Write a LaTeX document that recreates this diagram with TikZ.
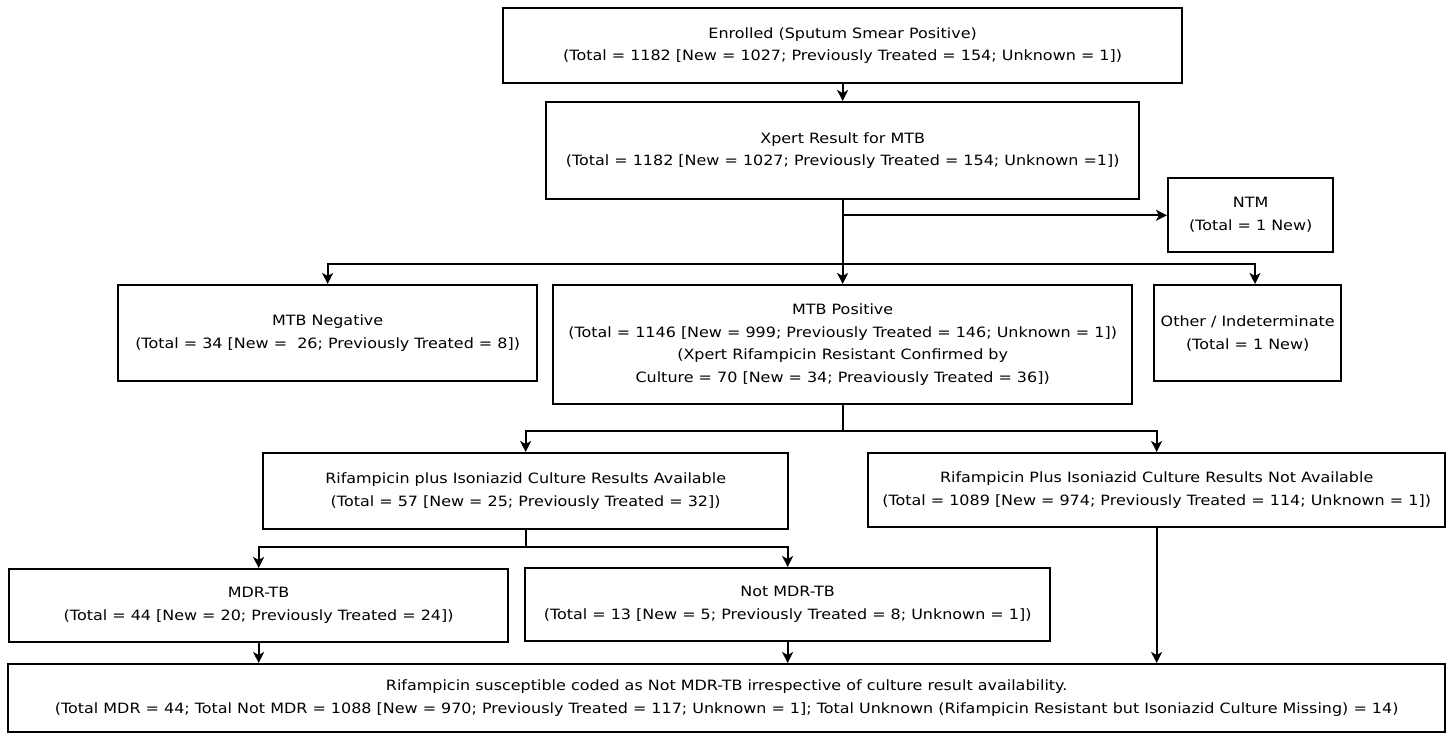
\documentclass[tikz,border=0pt]{standalone}
\usepackage{fontspec}
\setmainfont[FakeStretch=1.124]{DejaVu Sans}
\usetikzlibrary{arrows.meta,calc}
\begin{document}
\begin{tikzpicture}[x=1pt,y=-1pt,
  box/.style={draw=black, line width=2.3pt, inner sep=0pt, align=center, anchor=north west,
    font=\fontsize{14.2}{22.8}\selectfont, text=black},
  arr/.style={line width=1.9pt, -{Stealth[length=11pt,width=11pt,inset=3pt]}},
  ln/.style={line width=1.9pt}]
\useasboundingbox (0,0) rectangle (1450,734);

\node[box, minimum width=679pt, minimum height=75pt] (enr) at (502,7)
  {Enrolled (Sputum Smear Positive)\\(Total = 1182 [New = 1027; Previously Treated = 154; Unknown = 1])};
\node[box, minimum width=593pt, minimum height=97pt] (xpert) at (545,101)
  {Xpert Result for MTB\\(Total = 1182 [New = 1027; Previously Treated = 154; Unknown =1])};
\node[box, minimum width=165pt, minimum height=74pt] (ntm) at (1167,177)
  {NTM\\(Total = 1 New)};
\node[box, minimum width=419pt, minimum height=96pt] (neg) at (117,284)
  {MTB Negative\\(Total = 34 [New = \ 26; Previously Treated = 8])};
\node[box, minimum width=579pt, minimum height=119pt] (pos) at (552,284)
  {MTB Positive\\(Total = 1146 [New = 999; Previously Treated = 146; Unknown = 1])\\(Xpert Rifampicin Resistant Confirmed by\\Culture = 70 [New = 34; Preaviously Treated = 36])};
\node[box, minimum width=187pt, minimum height=96pt] (oth) at (1153,284)
  {Other / Indeterminate\\(Total = 1 New)};
\node[box, minimum width=525pt, minimum height=76pt] (avail) at (262,452)
  {Rifampicin plus Isoniazid Culture Results Available\\(Total = 57 [New = 25; Previously Treated = 32])};
\node[box, minimum width=577pt, minimum height=74pt] (navail) at (867,452)
  {Rifampicin Plus Isoniazid Culture Results Not Available\\(Total = 1089 [New = 974; Previously Treated = 114; Unknown = 1])};
\node[box, minimum width=499pt, minimum height=73pt] (mdr) at (8,568)
  {MDR-TB\\(Total = 44 [New = 20; Previously Treated = 24])};
\node[box, minimum width=525pt, minimum height=73pt] (nmdr) at (524,567)
  {Not MDR-TB\\(Total = 13 [New = 5; Previously Treated = 8; Unknown = 1])};
\node[box, minimum width=1437pt, minimum height=68pt] (bot) at (7,663)
  {Rifampicin susceptible coded as Not MDR-TB irrespective of culture result availability.\\(Total MDR = 44; Total Not MDR = 1088 [New = 970; Previously Treated = 117; Unknown = 1]; Total Unknown (Rifampicin Resistant but Isoniazid Culture Missing) = 14)};

% connectors
\draw[arr] (enr.south) -- (enr.south |- xpert.north);
\coordinate (jn) at ($(xpert.south)+(0,15)$);
\coordinate (j2) at ($(xpert.south)+(0,64)$);
\coordinate (joth) at (1255,0);
\draw[arr] (xpert.south) -- (xpert.south |- pos.north);
\draw[arr] (jn) -- (jn -| ntm.west);
\draw[arr] (j2) -| (neg.north);
\draw[arr] (j2) -| (joth |- oth.north);

\coordinate (j3) at ($(pos.south)+(0,26)$);
\draw[arr] (pos.south) -- (j3) -| (avail.north);
\draw[arr] (j3) -| (navail.north);

\coordinate (j4) at ($(avail.south)+(0,17)$);
\draw[arr] (avail.south) -- (j4) -| (mdr.north);
\draw[arr] (j4) -| (nmdr.north);

\draw[arr] (mdr.south) -- (mdr.south |- bot.north);
\draw[arr] (nmdr.south) -- (nmdr.south |- bot.north);
\draw[arr] (navail.south) -- (navail.south |- bot.north);
\end{tikzpicture}
\end{document}
